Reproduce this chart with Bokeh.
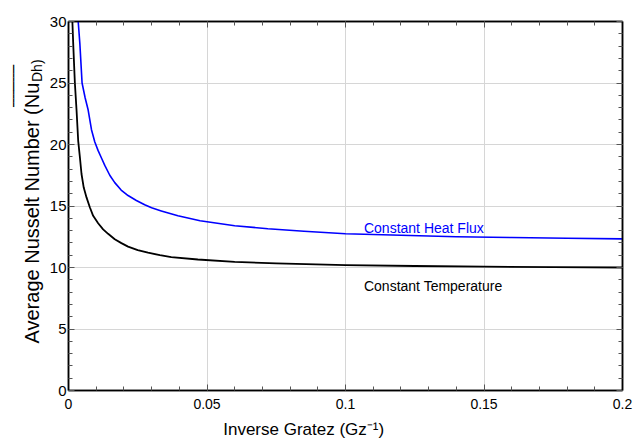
import math
from bokeh.plotting import figure
from bokeh.models import Range1d, FixedTicker, LinearAxis, Label
from bokeh.embed import file_html
from bokeh.resources import INLINE

# ---- data ----
inv_gz_temp = [0.0014, 0.0017, 0.0023, 0.0029, 0.0035, 0.0041, 0.0047, 0.0055, 0.0065,
               0.0077, 0.0089, 0.0107, 0.0125, 0.0143, 0.0167, 0.0191, 0.0215, 0.0250,
               0.0287, 0.0330, 0.0371, 0.0467, 0.060, 0.075, 0.100, 0.125,
               0.150, 0.175, 0.200]
nu_temp = [30.0, 28.2, 25.0, 22.8, 20.3, 19.0, 17.6, 16.5, 15.7,
           14.9, 14.2, 13.6, 13.1, 12.74, 12.3, 11.98, 11.7, 11.42,
           11.2, 11.0, 10.85, 10.65, 10.45, 10.33, 10.2, 10.12,
           10.07, 10.03, 10.0]

inv_gz_flux = [0.0035, 0.0041, 0.0049, 0.0060, 0.0071, 0.0083, 0.0095, 0.0107, 0.0119,
               0.0131, 0.0149, 0.0167, 0.0190, 0.0215, 0.0245, 0.0275, 0.0300, 0.0335,
               0.0395, 0.0475, 0.060, 0.072, 0.085, 0.100, 0.120,
               0.140, 0.160, 0.180, 0.200]
nu_flux = [30.0, 28.2, 25.0, 23.8, 22.8, 21.2, 20.2, 19.5, 18.9,
           18.3, 17.5, 16.9, 16.3, 15.85, 15.45, 15.1, 14.85, 14.6,
           14.2, 13.8, 13.4, 13.15, 12.95, 12.75, 12.62,
           12.5, 12.44, 12.38, 12.33]

x_ticks = [0, 0.05, 0.1, 0.15, 0.2]
x_tick_labels = ["0", "0.05", "0.1", "0.15", "0.2"]
y_ticks = [0, 5, 10, 15, 20, 25, 30]
y_tick_labels = ["0", "5", "10", "15", "20", "25", "30"]
x_minor = [i * 0.01 for i in range(21)]
y_minor = list(range(31))

FONT = "Liberation Sans"
W, H = 644, 440
L, R, T, B = 67, 622, 21, 390
XMIN, XMAX, YMIN, YMAX = 0.0, 0.2, 0.0, 30.0


def dx(px):
    return XMIN + (px - L) / (R - L) * (XMAX - XMIN)


def dy(py):
    return YMIN + (B - py) / (B - T) * (YMAX - YMIN)


p = figure(width=W, height=H, output_backend="svg", toolbar_location=None,
           x_range=Range1d(XMIN, XMAX), y_range=Range1d(YMIN, YMAX),
           min_border_left=L, min_border_right=W - R, min_border_top=T,
           min_border_bottom=H - B)
p.background_fill_color = "white"
p.border_fill_color = "white"
p.outline_line_color = "black"
p.outline_line_width = 1.5

xt = FixedTicker(ticks=x_ticks, minor_ticks=x_minor)
yt = FixedTicker(ticks=y_ticks, minor_ticks=y_minor)


def style(ax, ticker, labels, ticks, size="14px", standoff=6, show=True):
    ax.ticker = ticker
    ax.axis_line_color = "black"
    ax.axis_line_width = 1.5
    ax.major_tick_in = 6
    ax.major_tick_out = 0
    ax.minor_tick_in = 4
    ax.minor_tick_out = 0
    ax.major_tick_line_color = "#555555"
    ax.minor_tick_line_color = "#555555"
    if show:
        ax.major_label_overrides = {t: s for t, s in zip(ticks, labels)}
        ax.major_label_text_font = FONT
        ax.major_label_text_font_size = size
        ax.major_label_text_color = "black"
        ax.major_label_standoff = standoff
    else:
        ax.major_label_overrides = {t: "" for t in ticks}
        ax.major_label_standoff = 0


style(p.xaxis[0], xt, x_tick_labels, x_ticks, "14px", 8)
style(p.yaxis[0], yt, y_tick_labels, y_ticks, "15px", 2)
top_ax = LinearAxis()
right_ax = LinearAxis()
style(top_ax, xt, x_tick_labels, x_ticks, show=False)
style(right_ax, yt, y_tick_labels, y_ticks, show=False)
p.add_layout(top_ax, "above")
p.add_layout(right_ax, "right")

p.xgrid.ticker = FixedTicker(ticks=x_ticks)
p.ygrid.ticker = FixedTicker(ticks=y_ticks)
p.xgrid.grid_line_color = "#d6d6d6"
p.ygrid.grid_line_color = "#d6d6d6"
p.xgrid.grid_line_width = 1
p.ygrid.grid_line_width = 1

p.line(inv_gz_temp, nu_temp, line_color="black", line_width=1.8, line_join="round")
p.line(inv_gz_flux, nu_flux, line_color="#0000ff", line_width=1.6, line_join="round")

# curve labels
p.add_layout(Label(x=dx(363), y=dy(227), text="Constant Heat Flux",
                   text_font=FONT, text_font_size="14px", text_color="#0000ff",
                   text_align="left", text_baseline="alphabetic"))
p.add_layout(Label(x=dx(363), y=dy(285.5), text="Constant Temperature",
                   text_font=FONT, text_font_size="14px", text_color="black",
                   text_align="left", text_baseline="alphabetic"))

# x-axis title (one label in the bottom side panel so it is not clipped)
p.add_layout(Label(x=dx(222), y=dy(428.5), text="Inverse Gratez (Gz\u207b\u00b9)",
                   text_font=FONT, text_font_size="17px", text_color="black",
                   text_align="left", text_baseline="alphabetic"), "below")


# y-axis title (rotated) with overline and subscript, in the left side panel
def vlabel(px, py, text, size, side, font=FONT, baseline="alphabetic"):
    p.add_layout(Label(x=dx(px), y=dy(py), text=text, text_font=font,
                       text_font_size=f"{size}px", text_color="black",
                       angle=math.pi / 2, text_align="left",
                       text_baseline=baseline), side)


vlabel(30, 343, "Average Nusselt Number (Nu", 20, "left")
vlabel(35, 81.5, "Dh)", 14, "left")
# overline drawn above Nu_Dh
vlabel(12, 106.5, "\u2501" * 10, 7, "left", font="DejaVu Sans", baseline="middle")

open("out.html", "w").write(file_html(p, INLINE))
